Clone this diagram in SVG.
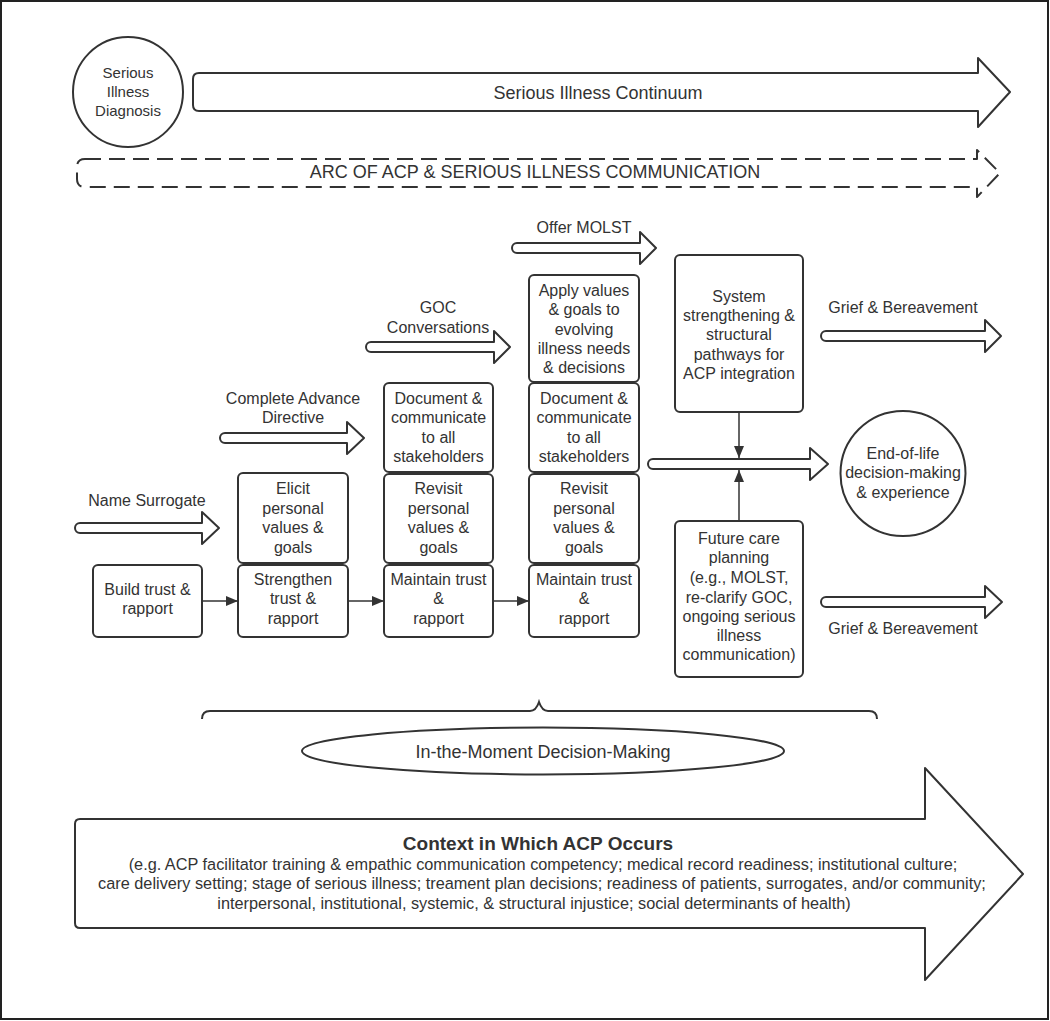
<svg xmlns="http://www.w3.org/2000/svg" width="1050" height="1021" viewBox="0 0 1050 1021">
<defs>
<style>
.t{font-family:"Liberation Sans",Arial,sans-serif;font-size:16px;fill:#333;text-anchor:middle}
.big{font-size:18px}
.b{font-weight:bold}
.s15{font-size:15px}
.ctx{font-size:16.3px}
.box{fill:#fff;stroke:#333;stroke-width:2}
.arr{fill:#fff;stroke:#333;stroke-width:2;stroke-linejoin:round}
.dash{stroke-dasharray:16 8}
.con{fill:none;stroke:#333;stroke-width:1.5}
</style>
<marker id="ah" viewBox="0 0 12 10" refX="12" refY="5" markerWidth="12" markerHeight="10" markerUnits="userSpaceOnUse" orient="auto">
<path d="M0,0 L12,5 L0,10 Z" fill="#333"/>
</marker>
</defs>
<rect x="1" y="1" width="1047" height="1018" fill="#fff" stroke="#222" stroke-width="2"/>

<g id="diagnosis">
<circle cx="128" cy="92" r="55" class="box"/>
<text class="t s15" x="128" y="77.5">Serious</text>
<text class="t s15" x="128" y="96.5">Illness</text>
<text class="t s15" x="128" y="115.5">Diagnosis</text>
</g>
<g id="continuum">
<path class="arr" d="M199,73 H978 V58 L1010,92 L978,127 V111 H199 Q193,111 193,105 V79 Q193,73 199,73 Z"/>
<text class="t big" x="598" y="98.5">Serious Illness Continuum</text>
</g>
<g id="arc">
<path class="arr dash" d="M85,159 H977 V150 L1000,173 L977,197 V187 H85 Q77,187 77,179 V167 Q77,159 85,159 Z"/>
<text class="t big" x="535" y="177.5">ARC OF ACP &amp; SERIOUS ILLNESS COMMUNICATION</text>
</g>

<g id="name-surrogate">
<path class="arr" d="M80,523 H202 V512 L219,528 L202,544 V533 H80 A5,5 0 0 1 80,523 Z"/>
<text class="t" x="147" y="506">Name Surrogate</text>
</g>
<g id="advance-directive">
<path class="arr" d="M225,433 H347 V422 L364,438 L347,454 V443 H225 A5,5 0 0 1 225,433 Z"/>
<text class="t" x="293" y="404">Complete Advance</text>
<text class="t" x="293" y="423">Directive</text>
</g>
<g id="goc">
<path class="arr" d="M371,342 H494 V331 L510,347 L494,363 V352 H371 A5,5 0 0 1 371,342 Z"/>
<text class="t" x="438" y="313">GOC</text>
<text class="t" x="438" y="333">Conversations</text>
</g>
<g id="molst">
<path class="arr" d="M517,243 H640 V232 L656,248 L640,264 V253 H517 A5,5 0 0 1 517,243 Z"/>
<text class="t" x="584" y="233">Offer MOLST</text>
</g>

<g id="build-trust">
<rect class="box" x="93" y="565" width="109" height="72" rx="5"/>
<text class="t" x="147.5" y="595">Build trust &amp;</text>
<text class="t" x="147.5" y="614">rapport</text>
</g>
<g id="elicit">
<rect class="box" x="238" y="473" width="110" height="90" rx="5"/>
<text class="t" x="293" y="494">Elicit</text>
<text class="t" x="293" y="514">personal</text>
<text class="t" x="293" y="533">values &amp;</text>
<text class="t" x="293" y="553">goals</text>
</g>
<g id="strengthen">
<rect class="box" x="238" y="565" width="110" height="72" rx="5"/>
<text class="t" x="293" y="585">Strengthen</text>
<text class="t" x="293" y="604">trust &amp;</text>
<text class="t" x="293" y="624">rapport</text>
</g>

<g id="document-1">
<rect class="box" x="384" y="383" width="109" height="89" rx="5"/>
<text class="t" x="438.5" y="404">Document &amp;</text>
<text class="t" x="438.5" y="423">communicate</text>
<text class="t" x="438.5" y="443">to all</text>
<text class="t" x="438.5" y="462">stakeholders</text>
</g>
<g id="revisit-1">
<rect class="box" x="384" y="474" width="109" height="89" rx="5"/>
<text class="t" x="438.5" y="494">Revisit</text>
<text class="t" x="438.5" y="514">personal</text>
<text class="t" x="438.5" y="533">values &amp;</text>
<text class="t" x="438.5" y="553">goals</text>
</g>
<g id="maintain-1">
<rect class="box" x="384" y="565" width="109" height="72" rx="5"/>
<text class="t" x="438.5" y="585">Maintain trust</text>
<text class="t" x="438.5" y="604">&amp;</text>
<text class="t" x="438.5" y="624">rapport</text>
</g>

<g id="apply">
<rect class="box" x="529" y="275" width="110" height="107" rx="5"/>
<text class="t" x="584" y="296">Apply values</text>
<text class="t" x="584" y="315">&amp; goals to</text>
<text class="t" x="584" y="335">evolving</text>
<text class="t" x="584" y="354">illness needs</text>
<text class="t" x="584" y="373">&amp; decisions</text>
</g>
<g id="document-2">
<rect class="box" x="529" y="383" width="110" height="89" rx="5"/>
<text class="t" x="584" y="404">Document &amp;</text>
<text class="t" x="584" y="423">communicate</text>
<text class="t" x="584" y="443">to all</text>
<text class="t" x="584" y="462">stakeholders</text>
</g>
<g id="revisit-2">
<rect class="box" x="529" y="474" width="110" height="89" rx="5"/>
<text class="t" x="584" y="494">Revisit</text>
<text class="t" x="584" y="514">personal</text>
<text class="t" x="584" y="533">values &amp;</text>
<text class="t" x="584" y="553">goals</text>
</g>
<g id="maintain-2">
<rect class="box" x="529" y="565" width="110" height="72" rx="5"/>
<text class="t" x="584" y="585">Maintain trust</text>
<text class="t" x="584" y="604">&amp;</text>
<text class="t" x="584" y="624">rapport</text>
</g>

<g id="system">
<rect class="box" x="675" y="255" width="128" height="157" rx="5"/>
<text class="t" x="739" y="302">System</text>
<text class="t" x="739" y="321">strengthening &amp;</text>
<text class="t" x="739" y="340">structural</text>
<text class="t" x="739" y="360">pathways for</text>
<text class="t" x="739" y="379">ACP integration</text>
</g>
<g id="future">
<rect class="box" x="675" y="521" width="128" height="156" rx="5"/>
<text class="t" x="739" y="544">Future care</text>
<text class="t" x="739" y="563">planning</text>
<text class="t" x="739" y="583">(e.g., MOLST,</text>
<text class="t" x="739" y="603">re-clarify GOC,</text>
<text class="t" x="739" y="622">ongoing serious</text>
<text class="t" x="739" y="641">illness</text>
<text class="t" x="739" y="660">communication)</text>
</g>
<g id="end-of-life">
<circle class="box" cx="903" cy="473.5" r="62.5"/>
<text class="t" x="903" y="459">End-of-life</text>
<text class="t" x="903" y="478">decision-making</text>
<text class="t" x="903" y="498">&amp; experience</text>
</g>
<g id="to-end-of-life">
<path class="arr" d="M653,459 H810 V448 L828,464 L810,480 V469 H653 A5,5 0 0 1 653,459 Z"/>
</g>
<g id="grief-1">
<path class="arr" d="M826,331 H985 V320 L1001,336 L985,352 V341 H826 A5,5 0 0 1 826,331 Z"/>
<text class="t" x="903" y="313">Grief &amp; Bereavement</text>
</g>
<g id="grief-2">
<path class="arr" d="M826,597 H985 V586 L1002,602 L985,618 V607 H826 A5,5 0 0 1 826,597 Z"/>
<text class="t" x="903" y="634">Grief &amp; Bereavement</text>
</g>

<g id="connectors">
<line class="con" x1="202" y1="601" x2="238" y2="601" marker-end="url(#ah)"/>
<line class="con" x1="348" y1="601" x2="384" y2="601" marker-end="url(#ah)"/>
<line class="con" x1="493" y1="601" x2="529" y2="601" marker-end="url(#ah)"/>
<line class="con" x1="739" y1="412" x2="739" y2="458" marker-end="url(#ah)"/>
<line class="con" x1="739" y1="521" x2="739" y2="470" marker-end="url(#ah)"/>
</g>

<g id="brace">
<path d="M202,719 Q202,711 210,711 H530 Q536,711 539,702 Q542,711 548,711 H869 Q877,711 877,719" fill="none" stroke="#333" stroke-width="2"/>
</g>
<g id="in-the-moment">
<ellipse class="box" cx="543" cy="751" rx="241" ry="23.5"/>
<text class="t big" x="543" y="757.5">In-the-Moment Decision-Making</text>
</g>
<g id="context">
<path class="arr" d="M80,819 H925 V768 L1023,874 L925,980 V928 H80 Q75,928 75,923 V824 Q75,819 80,819 Z"/>
<text class="t b" style="font-size:19px" x="538" y="850">Context in Which ACP Occurs</text>
<text class="t ctx" x="543" y="870">(e.g. ACP facilitator training &amp; empathic communication competency; medical record readiness; institutional culture;</text>
<text class="t ctx" x="542" y="889">care delivery setting; stage of serious illness; treament plan decisions; readiness of patients, surrogates, and/or community;</text>
<text class="t ctx" x="534" y="909">interpersonal, institutional, systemic, &amp; structural injustice; social determinants of health)</text>
</g>
</svg>
